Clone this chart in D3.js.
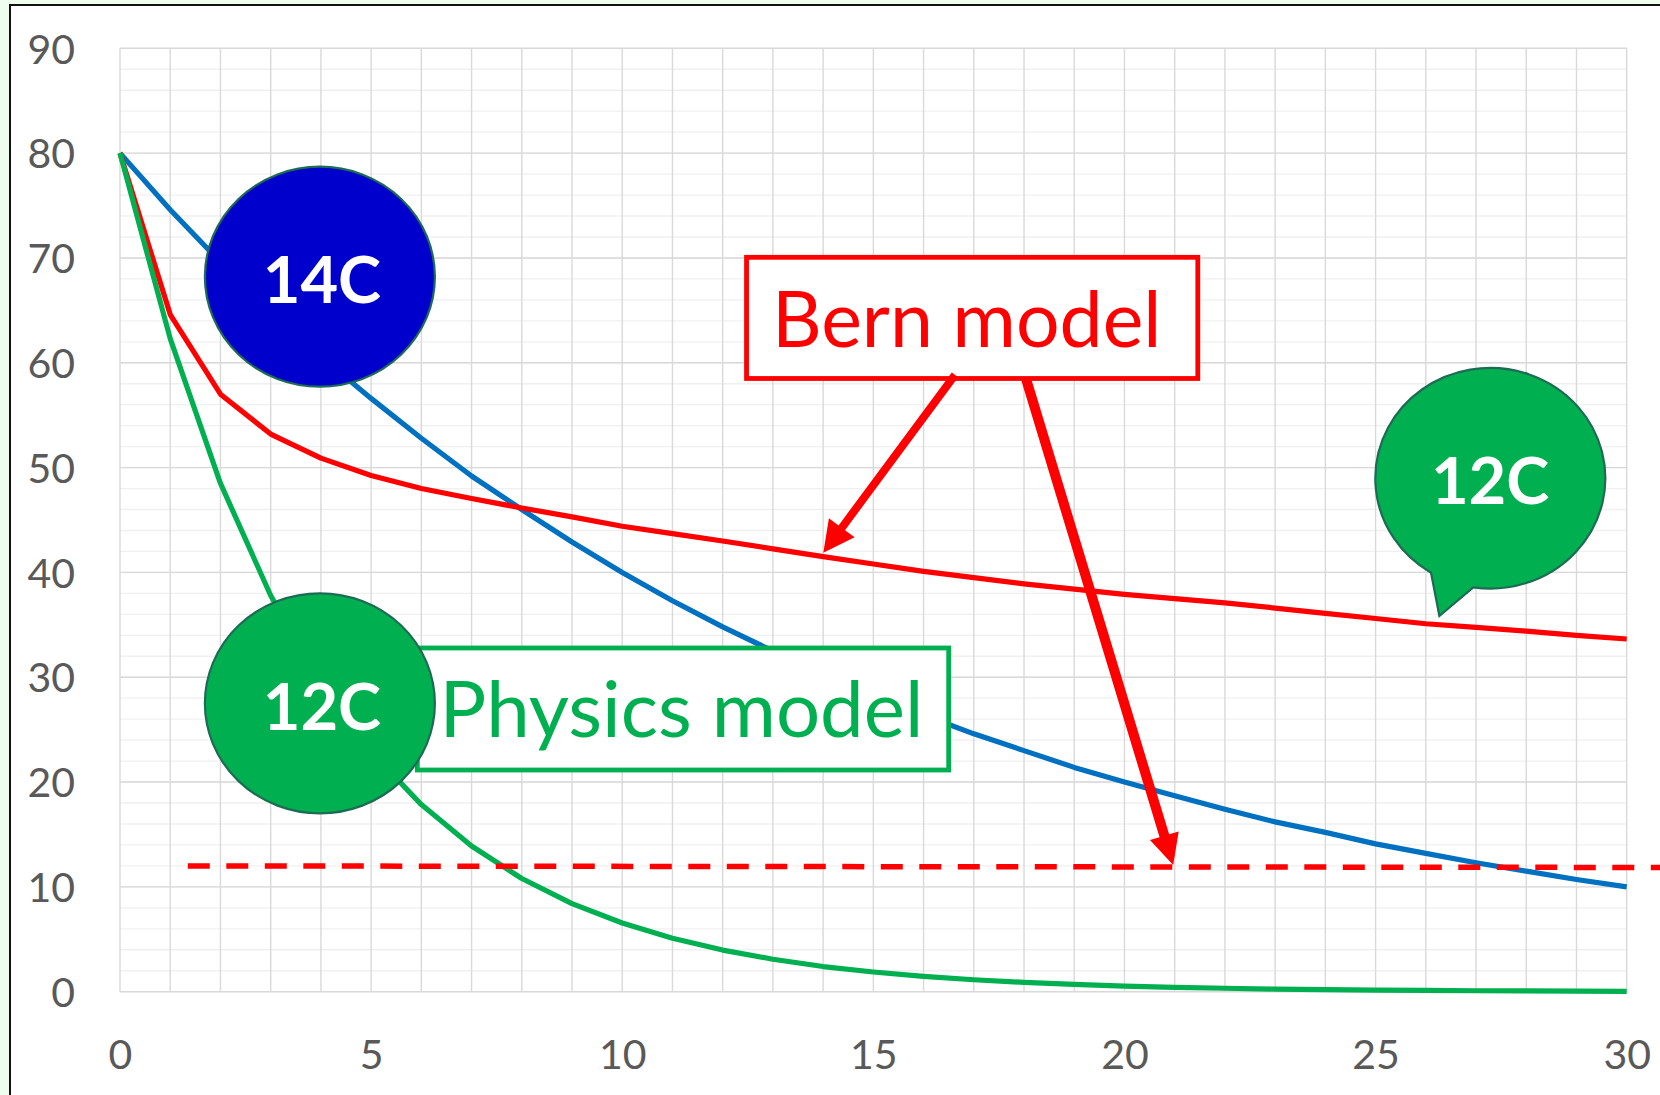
<!DOCTYPE html>
<html>
<head>
<meta charset="utf-8">
<script src="https://cdnjs.cloudflare.com/ajax/libs/d3/7.8.5/d3.min.js"></script>
<style>
  html, body { margin: 0; padding: 0; background: #effdef; overflow: hidden; }
  svg { display: block; }
  text { font-family: Lato, "Open Sans", sans-serif; }
</style>
</head>
<body>
<div id="chart"></div>
<script>
//years after the pulse (x values)
const years = [0, 1, 2, 3, 4, 5, 6, 7, 8, 9, 10, 11, 12, 13, 14, 15,
  16, 17, 18, 19, 20, 21, 22, 23, 24, 25, 26, 27, 28, 29, 30];

//14C, blue
const carbon14 = [80, 74.6, 69.6, 65.0, 60.6, 56.6, 52.8, 49.2, 46.0, 42.9, 40.0,
  37.3, 34.8, 32.5, 30.3, 28.3, 26.4, 24.6, 23.0, 21.4, 20.0,
  18.7, 17.4, 16.2, 15.2, 14.1, 13.2, 12.3, 11.5, 10.7, 10.0];

//Bern model, red
const bernModel = [80, 64.6, 57.0, 53.2, 50.9, 49.25, 48.0, 47.05, 46.15, 45.3, 44.4,
  43.7, 43.0, 42.25, 41.5, 40.8, 40.1, 39.5, 38.9, 38.4, 37.9,
  37.5, 37.1, 36.6, 36.1, 35.6, 35.1, 34.75, 34.4, 34.0, 33.65];

//Physics model 12C, green
const physicsModel = [80, 62.3, 48.5, 37.8, 29.4, 22.9, 17.85, 13.9, 10.8, 8.4, 6.55,
  5.1, 3.97, 3.1, 2.4, 1.88, 1.46, 1.14, 0.89, 0.69, 0.54,
  0.42, 0.33, 0.25, 0.2, 0.15, 0.12, 0.09, 0.07, 0.06, 0.04];

//dashed Bern level line: [year, value]
const bernLevel = [[1.35, 12.0], [31, 11.85]];

const xTicks = [0, 5, 10, 15, 20, 25, 30];
const yTicks = [0, 10, 20, 30, 40, 50, 60, 70, 80, 90];

const size = { width: 1660, height: 1095 };
const plot = { left: 120, right: 1626.7, top: 48.3, bottom: 991.7 };

const svg = d3.select("#chart")
  .append("svg")
  .attr("width", size.width)
  .attr("height", size.height);

//scales
const x = d3.scaleLinear()
  .domain([0, 30])
  .range([plot.left, plot.right]);

const y = d3.scaleLinear()
  .domain([0, 90])
  .range([plot.bottom, plot.top]);

//chart area, only its top and left edges are in the picture
svg.append("rect")
  .attr("x", 10)
  .attr("y", 5)
  .attr("width", size.width)
  .attr("height", size.height)
  .attr("fill", "#fff")
  .attr("stroke", "#111")
  .attr("stroke-width", 2);

//gridlines
const grid = svg.append("g");

grid.selectAll(".minor")
  .data(d3.range(0, 91, 2))
  .enter().append("line")
    .attr("x1", plot.left).attr("x2", plot.right)
    .attr("y1", d => y(d)).attr("y2", d => y(d))
    .attr("stroke", "#f0f0f0")
    .attr("stroke-width", 1.3);

grid.selectAll(".vert")
  .data(years)
  .enter().append("line")
    .attr("x1", d => x(d)).attr("x2", d => x(d))
    .attr("y1", plot.top).attr("y2", plot.bottom)
    .attr("stroke", "#d9d9d9")
    .attr("stroke-width", 1.4);

grid.selectAll(".major")
  .data(yTicks)
  .enter().append("line")
    .attr("x1", plot.left).attr("x2", plot.right)
    .attr("y1", d => y(d)).attr("y2", d => y(d))
    .attr("stroke", "#d9d9d9")
    .attr("stroke-width", 1.4);

//axes
const yAxis = svg.append("g")
  .attr("transform", "translate(" + plot.left + ",0)")
  .call(d3.axisLeft(y).tickValues(yTicks).tickSize(0).tickPadding(45));

const xAxis = svg.append("g")
  .attr("transform", "translate(0," + plot.bottom + ")")
  .call(d3.axisBottom(x).tickValues(xTicks).tickSize(0).tickPadding(48));

[yAxis, xAxis].forEach(function(a) {
  a.select(".domain").remove();
  a.selectAll("text")
    .attr("fill", "#595959")
    .style("font-size", "41px")
    .style("font-family", "Lato, 'Open Sans', sans-serif");
});
yAxis.selectAll("text").attr("dy", "0.36em");

//series lines
const line = d3.line()
  .x(function(d, i) { return x(years[i]); })
  .y(function(d) { return y(d); });

const series = [
  { values: carbon14, color: "#0070c0" },
  { values: bernModel, color: "#ff0000" },
  { values: physicsModel, color: "#00b050" }
];

svg.append("g").selectAll("path")
  .data(series)
  .enter().append("path")
    .attr("d", d => line(d.values))
    .attr("fill", "none")
    .attr("stroke", d => d.color)
    .attr("stroke-width", 5.2)
    .attr("stroke-linejoin", "round");

//dashed level
svg.append("path")
  .attr("d", d3.line().x(d => x(d[0])).y(d => y(d[1]))(bernLevel))
  .attr("fill", "none")
  .attr("stroke", "#ff0000")
  .attr("stroke-width", 5.5)
  .attr("stroke-dasharray", "22,16.5");

//label boxes (positions in chart units)
function box(b, color, label) {
  svg.append("rect")
    .attr("x", x(b.x0))
    .attr("y", y(b.top))
    .attr("width", x(b.x1) - x(b.x0))
    .attr("height", y(b.bottom) - y(b.top))
    .attr("fill", "#fff")
    .attr("stroke", color)
    .attr("stroke-width", 4.8);
  svg.append("text")
    .attr("x", x(b.tx))
    .attr("y", y(b.ty))
    .attr("text-anchor", "middle")
    .attr("fill", color)
    .style("font-size", b.font + "px")
    .text(label);
}

box({ x0: 12.475, x1: 21.46, top: 70.06, bottom: 58.5, tx: 16.86, ty: 61.53, font: 77 }, "#ff0000", "Bern model");
box({ x0: 5.92, x1: 16.5, top: 32.79, bottom: 21.15, tx: 11.18, ty: 24.33, font: 78 }, "#00b050", "Physics model");

//round labels
const bubbleStroke = "#1d6b55";

function bubbleText(tx, ty, label) {
  svg.append("text")
    .attr("x", x(tx))
    .attr("y", y(ty))
    .attr("text-anchor", "middle")
    .attr("fill", "#fff")
    .style("font-weight", "bold")
    .style("font-size", "65px")
    .text(label);
}

function ellipse(cx, cy, fill) {
  svg.append("ellipse")
    .attr("cx", x(cx))
    .attr("cy", y(cy))
    .attr("rx", 115)
    .attr("ry", 110)
    .attr("fill", fill)
    .attr("stroke", bubbleStroke)
    .attr("stroke-width", 2.2);
}

ellipse(3.98, 68.21, "#0000cc");
bubbleText(4.02, 65.68, "14C");

ellipse(3.98, 27.51, "#00b050");
bubbleText(4.02, 24.97, "12C");

//speech bubble with a tail
const tailA = [26.104, 39.97], tailTip = [26.27, 35.84], tailC = [26.945, 38.58];
svg.append("path")
  .attr("d", "M" + x(tailA[0]) + "," + y(tailA[1]) +
    "L" + x(tailTip[0]) + "," + y(tailTip[1]) +
    "L" + x(tailC[0]) + "," + y(tailC[1]) +
    "A115,110.3 0 1 0 " + x(tailA[0]) + "," + y(tailA[1]) + "Z")
  .attr("fill", "#00b050")
  .attr("stroke", bubbleStroke)
  .attr("stroke-width", 2.2)
  .attr("stroke-linejoin", "miter");
bubbleText(27.28, 46.53, "12C");

//arrows from the Bern model box
function arrow(from, to, shaft, headLen, headHalf) {
  const x0 = x(from[0]), y0 = y(from[1]), x1 = x(to[0]), y1 = y(to[1]);
  const len = Math.hypot(x1 - x0, y1 - y0);
  const ux = (x1 - x0) / len, uy = (y1 - y0) / len;
  const px = -uy, py = ux;
  const bx = x1 - ux * headLen, by = y1 - uy * headLen;
  const s = shaft / 2;
  const pts = [
    [x0 + px * s, y0 + py * s],
    [bx + px * s, by + py * s],
    [bx + px * headHalf, by + py * headHalf],
    [x1, y1],
    [bx - px * headHalf, by - py * headHalf],
    [bx - px * s, by - py * s],
    [x0 - px * s, y0 - py * s]
  ];
  svg.append("path")
    .attr("d", "M" + pts.join("L") + "Z")
    .attr("fill", "#ff0000");
}

arrow([16.626, 58.84], [14.004, 41.88], 8, 31, 16);
arrow([18.04, 58.46], [20.97, 12.09], 10, 30.5, 15);
</script>
</body>
</html>
